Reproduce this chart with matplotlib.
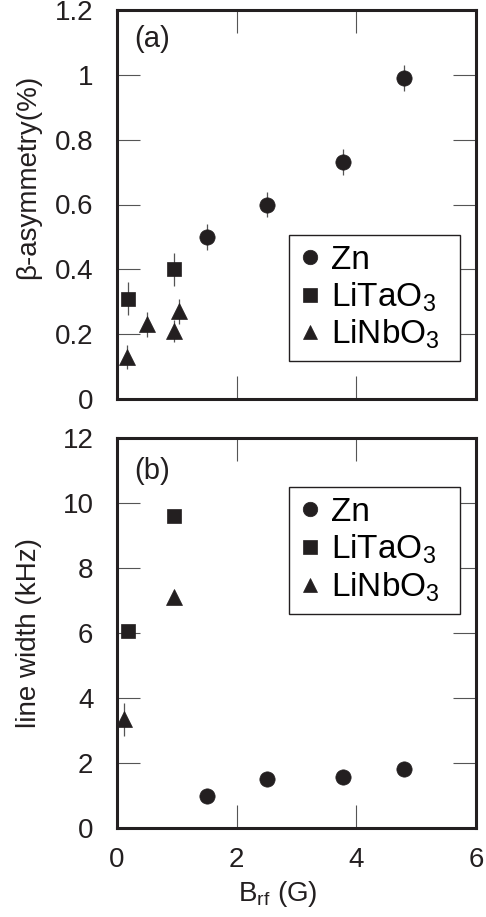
import matplotlib
matplotlib.use('Agg')
import matplotlib.pyplot as plt
import numpy as np

plt.rcParams['font.family'] = ['Liberation Sans', 'DejaVu Sans']
plt.rcParams['mathtext.fontset'] = 'custom'
plt.rcParams['mathtext.rm'] = 'Liberation Sans'
plt.rcParams['mathtext.it'] = 'Liberation Sans:italic'

# data
zn_b = [1.5, 2.5, 3.77, 4.8]
zn_asym = [0.50, 0.60, 0.73, 0.99]
zn_asym_err = [0.04, 0.04, 0.04, 0.04]
zn_width = [0.97, 1.50, 1.57, 1.82]
zn_width_err = [0, 0, 0, 0]

lta_b = [0.19, 0.95]
lta_asym = [0.31, 0.40]
lta_asym_err = [0.05, 0.05]
lta_width = [6.05, 9.6]
lta_width_err = [0, 0]

lnb_b = [0.16, 0.5, 0.95, 1.03]
lnb_asym = [0.13, 0.23, 0.21, 0.27]
lnb_asym_err = [0.037, 0.039, 0.034, 0.039]
lnb_b2 = [0.11, 0.96]
lnb_width = [3.34, 7.1]
lnb_width_err = [0.5, 0]

labels = ['Zn', r'$\mathregular{LiTaO_3}$', r'$\mathregular{LiNbO_3}$']
asym_ticks = [0, 0.2, 0.4, 0.6, 0.8, 1.0, 1.2]
width_ticks = [0, 2, 4, 6, 8, 10, 12]
b_ticks = [0, 2, 4, 6]

ink = '#231f20'
grey = '#555555'
W, H = 486, 917


def style(ax):
  for s in ax.spines.values():
    s.set_linewidth(2.2)
    s.set_color(ink)
  ax.tick_params(direction='in', length=16.5, width=0.8, color=grey,
                 top=True, right=True, labelsize=20, labelcolor=ink)
  ax.tick_params(axis='y', pad=17)
  ax.tick_params(axis='x', pad=14)


def draw(ax, series):
  markers = ['o', 's', '^']
  sizes = [11, 10, 11]
  for (x, y, e), m, ms, lab in zip(series, markers, sizes, labels):
    ax.errorbar(x, y, yerr=e, fmt='none', ecolor=grey, elinewidth=0.9, capsize=0, zorder=2)
    ax.plot(x, y, ls='none', marker=m, ms=ms, color=ink, mec=ink, mew=0.5, zorder=3, label=lab)


def legend(ax, x0, y0):
  # frame stretched to the box width seen in the figure
  le = ax.legend(loc='upper left', bbox_to_anchor=(x0, y0 - 0.3, 0.476, 0.3),
                 mode='expand', borderaxespad=0,
                 fontsize=24, handlelength=0.65, handletextpad=0.3, borderpad=0.3,
                 labelspacing=0.13, fancybox=False, framealpha=1, edgecolor=ink,
                 markerscale=0.95)
  le.get_frame().set_linewidth(1.0)


fig = plt.figure(figsize=(W / 100, H / 100), dpi=100)
left, right = 117 / W, 476 / W
ax1 = fig.add_axes([left, 1 - 399 / H, right - left, 389 / H])
ax2 = fig.add_axes([left, 1 - 828 / H, right - left, 390 / H])

draw(ax1, [(zn_b, zn_asym, zn_asym_err), (lta_b, lta_asym, lta_asym_err),
           (lnb_b, lnb_asym, lnb_asym_err)])
draw(ax2, [(zn_b, zn_width, zn_width_err), (lta_b, lta_width, lta_width_err),
           (lnb_b2, lnb_width, lnb_width_err)])

for ax in (ax1, ax2):
  style(ax)
  ax.set_xlim(0, 6)
  ax.set_xticks(b_ticks)

ax1.set_ylim(0, 1.2)
ax1.set_yticks(asym_ticks)
ax1.set_yticklabels(['%g' % t for t in asym_ticks])
ax1.tick_params(labelbottom=False)
ax2.set_ylim(0, 12)
ax2.set_yticks(width_ticks)

ax1.set_ylabel('β-asymmetry(%)', fontsize=20, color=ink)
ax1.yaxis.set_label_coords(-0.21, 0.57)
ax2.set_ylabel('line width (kHz)', fontsize=20, color=ink)
ax2.yaxis.set_label_coords(-0.21, 0.5)
ax2.set_xlabel(r'$\mathregular{B_{rf}}$ (G)', fontsize=20, color=ink)
ax2.xaxis.set_label_coords(0.448, -0.13)

ax1.text(0.047, 0.925, '(a)', transform=ax1.transAxes, fontsize=21, va='center', color=ink)
ax2.text(0.047, 0.915, '(b)', transform=ax2.transAxes, fontsize=21, va='center', color=ink)

legend(ax1, 0.479, 0.4216)
legend(ax2, 0.479, 0.874)

fig.savefig('out.png', dpi=100)
